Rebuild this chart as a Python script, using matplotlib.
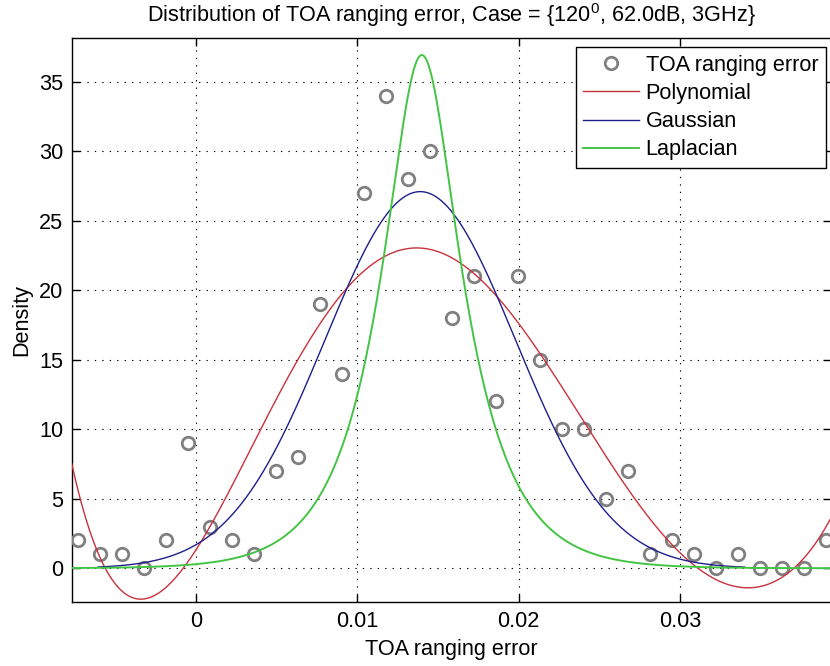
import numpy as np
import matplotlib
matplotlib.use("Agg")
import matplotlib.pyplot as plt

plt.rcParams['font.family'] = ['Liberation Sans', 'DejaVu Sans']
plt.rcParams['mathtext.fontset'] = 'custom'
plt.rcParams['mathtext.rm'] = 'Liberation Sans'

# ---- histogram points (density) ----
err_x = [-0.00730, -0.00594, -0.00457, -0.00321, -0.00185, -0.00048, 0.00088,
         0.00224, 0.00360, 0.00497, 0.00633, 0.00769, 0.00906, 0.01042,
         0.01178, 0.01315, 0.01451, 0.01587, 0.01723, 0.01860, 0.01996,
         0.02132, 0.02269, 0.02405, 0.02541, 0.02678, 0.02814, 0.02950,
         0.03086, 0.03223, 0.03359, 0.03495, 0.03632, 0.03768, 0.03904]
err_density = [2, 1, 1, 0, 2, 9, 3, 2, 1, 7, 8, 19, 14, 27, 34, 28, 30, 18, 21,
               12, 21, 15, 10, 10, 5, 7, 1, 2, 1, 0, 1, 0, 0, 0, 2]

# ---- polynomial fit curve, readings taken along the red line ----
poly_read_x = [-0.0077, -0.0073, -0.0056, -0.0033, -0.0006, 0.0012, 0.0025,
               0.0040, 0.0062, 0.0091, 0.0116, 0.0138, 0.0164, 0.0190, 0.0213,
               0.0240, 0.0261, 0.0271, 0.0295, 0.0308, 0.0339, 0.0370, 0.0393]
poly_read_y = [7.9, 5.15, 0.0, -1.97, 0.0, 3.83, 6.35, 10.0, 15.0, 19.7, 22.3,
               22.97, 22.06, 19.3, 15.3, 10.4, 7.0, 5.15, 2.0, 0.0, -1.42, 0.0, 3.5]
poly_degree = 8

# ---- Gaussian fit: amplitude, mean, sigma, plotted range ----
gauss_params = [27.1, 0.0139, 0.0059]
gauss_range = [-0.00605, 0.0340]

# ---- Laplacian fit: amplitude, centre, scale, shape ----
lap_params = [36.93, 0.0140, 0.0016, 0.6]

title = 'Distribution of TOA ranging error, Case = {120$^{0}$, 62.0dB, 3GHz}'
x_ticks = [0, 0.01, 0.02, 0.03]
x_ticklabels = ['0', '0.01', '0.02', '0.03']
y_ticks = [0, 5, 10, 15, 20, 25, 30, 35]
xlim = [-0.007695, 0.03935]
ylim = [-2.45, 38.19]

FS = 15.6
W, H = 830, 666
fig = plt.figure(figsize=(W / 100, H / 100), dpi=100)
ax = fig.add_axes([71.7 / W, (H - 602.3) / H, (831 - 71.7) / W, (602.3 - 37.5) / H])

ax.plot(err_x, err_density, 'o', ms=9, mfc='none', mec='#808080', mew=2.0,
        label='TOA ranging error', zorder=3)

xx = np.linspace(xlim[0], xlim[1], 800)
px = np.array(poly_read_x)
c0, sc = np.mean(px), np.std(px)
coef = np.polyfit((px - c0) / sc, np.array(poly_read_y), poly_degree)
ax.plot(xx, np.polyval(coef, (xx - c0) / sc), color='#c8323c', lw=1.0,
        label='Polynomial', zorder=4)

gx = np.linspace(gauss_range[0], gauss_range[1], 600)
A, mu, s = gauss_params
ax.plot(gx, A * np.exp(-0.5 * ((gx - mu) / s) ** 2), color='#1e1e8c', lw=1.0,
        label='Gaussian', zorder=4)

La, Lm, Lw, Lp = lap_params
ax.plot(xx, La / np.cosh((xx - Lm) / Lw) ** Lp, color='#44c444', lw=1.4,
        label='Laplacian', zorder=4)

ax.set_xlim(xlim)
ax.set_ylim(ylim)
ax.set_xticks(x_ticks)
ax.set_xticklabels(x_ticklabels)
ax.set_yticks(y_ticks)
ax.tick_params(direction='in', length=6, width=1, top=True, right=True,
               labelsize=FS, pad=6)
ax.grid(True, color='black', linestyle=(0, (1.2, 5.5)), lw=0.8)
for sp in ax.spines.values():
    sp.set_linewidth(1.0)

ax.set_xlabel('TOA ranging error', fontsize=FS, labelpad=5)
ax.set_ylabel('Density', fontsize=FS, labelpad=5)
ax.set_title(title, fontsize=FS, pad=11)

leg = ax.legend(loc='upper right', bbox_to_anchor=(826 / W, 1 - 47 / H),
                bbox_transform=fig.transFigure, borderaxespad=0,
                fontsize=FS, frameon=True, fancybox=False, shadow=False,
                edgecolor='black', framealpha=1, handlelength=2.55,
                handletextpad=0.32, labelspacing=0.33, borderpad=0.36)
leg.get_frame().set_linewidth(1.0)

fig.savefig('out.png', dpi=100)
